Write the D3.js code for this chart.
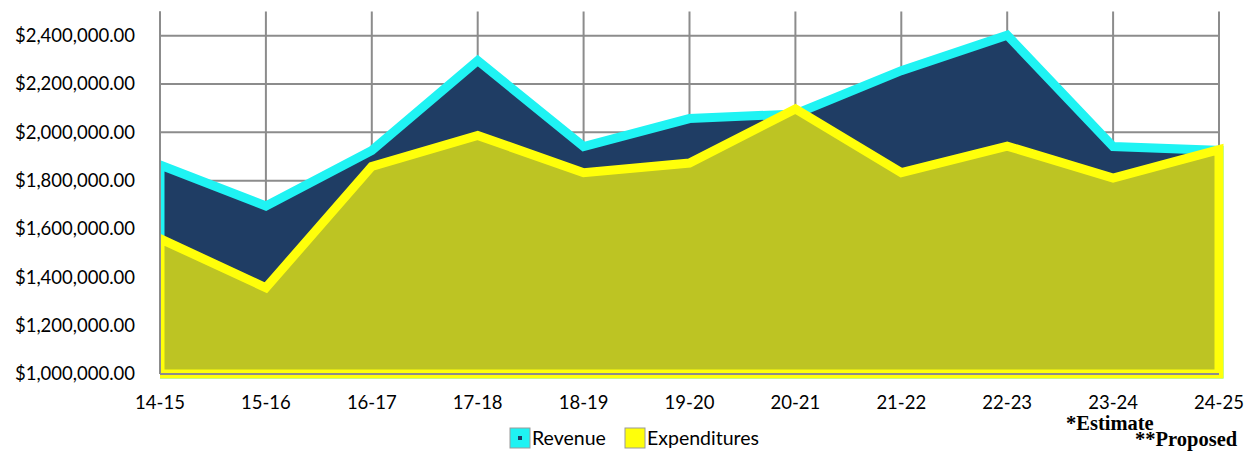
<!DOCTYPE html>
<html lang="en">
    <head>
        <meta charset="utf-8">
        <title>Revenue and Expenditures</title>
        <script src="https://d3js.org/d3.v7.min.js"></script>
        <style>
            body { margin: 0; background: #ffffff; }
            .tick-label { font-family: Lato, "Open Sans", sans-serif; font-size: 18.5px; fill: #000; }
            .note { font-family: "Liberation Serif", "Times New Roman", serif; font-weight: bold; font-size: 20.5px; fill: #000; }
        </style>
    </head>
    <body>
        <script type="text/javascript">

            // the fiscal years on the x axe
            var years = ["14-15", "15-16", "16-17", "17-18", "18-19", "19-20", "20-21", "21-22", "22-23", "23-24", "24-25"];

            // values
            var revenue = [1865000, 1695000, 1925000, 2297000, 1941000, 2057000, 2076000, 2255000, 2402000, 1941000, 1925000];
            var expenditures = [1560000, 1357000, 1859000, 1987000, 1833000, 1873000, 2097000, 1833000, 1943000, 1811000, 1928000];

            // tick values on the y axe
            var yTicks = [1000000, 1200000, 1400000, 1600000, 1800000, 2000000, 2200000, 2400000];

            var seriesNames = ["Revenue", "Expenditures"];

            // width and height of the window
            var w = 1253;
            var h = 451;

            var svg = d3.select("body")
                        .append("svg")
                        .attr("width", w)
                        .attr("height", h);

            // the scales
            var xScale = d3.scalePoint()
                           .domain(years)
                           .range([160, 1219]);

            var yScale = d3.scaleLinear()
                           .domain([1000000, 2500000])
                           .range([374, 11.5]);

            var grid = "#8c8c8c";
            var fmt = d3.format("$,.2f");

            // clip so the outline does not stick out left of the axe
            svg.append("clipPath")
               .attr("id", "plotclip")
               .append("rect")
               .attr("x", 160)
               .attr("y", 0)
               .attr("width", w - 160)
               .attr("height", h);

            // horizontal gridlines
            svg.selectAll("hgrid")
               .data(yTicks)
               .enter()
               .append("line")
               .attr("x1", 160)
               .attr("x2", 1219)
               .attr("y1", function(d) { return yScale(d); })
               .attr("y2", function(d) { return yScale(d); })
               .attr("stroke", grid)
               .attr("stroke-width", 2);

            // vertical gridlines
            svg.selectAll("vgrid")
               .data(years)
               .enter()
               .append("line")
               .attr("x1", function(d) { return xScale(d); })
               .attr("x2", function(d) { return xScale(d); })
               .attr("y1", yScale(2500000))
               .attr("y2", yScale(1000000))
               .attr("stroke", grid)
               .attr("stroke-width", 2);

            // making the areas
            function areaFor(values) {
              return d3.area()
                       .x(function(d, i) { return xScale(years[i]); })
                       .y0(yScale(1000000))
                       .y1(function(d) { return yScale(d); })(values);
            }

            var areas = svg.append("g")
                           .attr("clip-path", "url(#plotclip)");

            // revenue goes first, expenditures on top
            areas.append("path")
                 .attr("d", areaFor(revenue))
                 .attr("fill", "#1f3d64")
                 .attr("stroke", "#1ff3f3")
                 .attr("stroke-width", 9)
                 .attr("stroke-linejoin", "miter");

            areas.append("path")
                 .attr("d", areaFor(expenditures))
                 .attr("fill", "#bdc423")
                 .attr("stroke", "#ffff0a")
                 .attr("stroke-width", 9)
                 .attr("stroke-linejoin", "miter");

            // axis lines on top
            svg.append("line")
               .attr("x1", 160).attr("x2", 160)
               .attr("y1", yScale(2500000)).attr("y2", yScale(1000000))
               .attr("stroke", grid).attr("stroke-width", 2);

            svg.append("line")
               .attr("x1", 160).attr("x2", 1219)
               .attr("y1", yScale(1000000)).attr("y2", yScale(1000000))
               .attr("stroke", grid).attr("stroke-width", 2);

            // labeling the y axe
            svg.selectAll("ylabel")
               .data(yTicks)
               .enter()
               .append("text")
               .attr("class", "tick-label")
               .attr("x", 135)
               .attr("y", function(d) { return yScale(d); })
               .attr("dy", "0.35em")
               .attr("text-anchor", "end")
               .text(function(d) { return fmt(d); });

            // labeling the x axe
            svg.selectAll("xlabel")
               .data(years)
               .enter()
               .append("text")
               .attr("class", "tick-label")
               .attr("x", function(d) { return xScale(d); })
               .attr("y", 409)
               .attr("text-anchor", "middle")
               .text(function(d) { return d; });

            // the legend
            var legendColors = [["#1ff3f3", "#1f3d64"], ["#ffff0a", "#ffff0a"]];
            var legendX = [510, 625];

            var legend = svg.selectAll("legend")
                            .data(seriesNames)
                            .enter()
                            .append("g")
                            .attr("transform", function(d, i) { return "translate(" + legendX[i] + ",428)"; });

            legend.append("rect")
                  .attr("width", 20)
                  .attr("height", 20)
                  .attr("fill", function(d, i) { return legendColors[i][0]; })
                  .attr("stroke", "#9a9a9a")
                  .attr("stroke-width", 1);

            legend.append("rect")
                  .attr("x", 8)
                  .attr("y", 8)
                  .attr("width", 4)
                  .attr("height", 4)
                  .attr("fill", function(d, i) { return legendColors[i][1]; });

            legend.append("text")
                  .attr("class", "tick-label")
                  .attr("x", 22)
                  .attr("y", 17)
                  .style("font-size", "19.5px")
                  .text(function(d) { return d; });

            // notes in the corner
            svg.append("text")
               .attr("class", "note")
               .attr("x", 1066)
               .attr("y", 430)
               .text("*Estimate");

            svg.append("text")
               .attr("class", "note")
               .attr("x", 1135)
               .attr("y", 446)
               .text("**Proposed");
        </script>
    </body>
</html>
